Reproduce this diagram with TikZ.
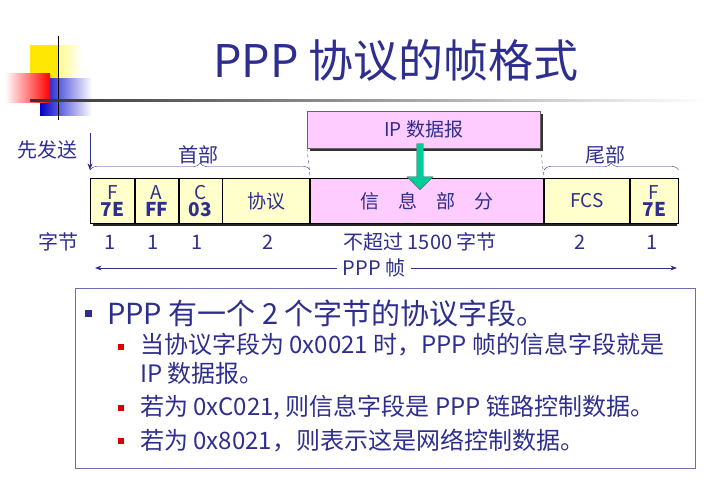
\documentclass[tikz,border=0pt]{standalone}
\usepackage{fontspec}
\setmainfont{Noto Sans CJK SC}
\usetikzlibrary{decorations.pathreplacing,arrows.meta,shapes.arrows}
\definecolor{navy}{HTML}{2E2E8F}
\definecolor{yel}{HTML}{FFFFCC}
\definecolor{pnk}{HTML}{FFCCFF}
\definecolor{grn}{HTML}{00CC99}
\tikzset{
 fld/.style={draw=black,thick,minimum height=45pt,inner sep=0pt,text=navy,font=\fontsize{19pt}{18pt}\selectfont,align=center},
 lbl/.style={text=navy,font=\fontsize{20pt}{20pt}\selectfont,inner sep=0pt},
 brc/.style={draw=navy,decorate,decoration={brace,amplitude=7pt}},
 big/.style={text=navy,font=\fontsize{29pt}{30pt}\selectfont,inner sep=0pt,anchor=west},
 sml/.style={text=navy,font=\fontsize{24pt}{29pt}\selectfont,inner sep=0pt,anchor=west,align=left},
}
\newcommand{\fb}[2]{#1\\[-1pt]\textbf{#2}}
\begin{document}
\begin{tikzpicture}[x=1pt,y=-1pt]
\useasboundingbox (0,0) rectangle (713,488);
% logo
\shade[left color=yellow!90!orange,right color=white] (30,45) rectangle (82,95);
\fill[yellow!90!orange] (30,45) rectangle (58,95);
\shade[left color=blue!80!black,right color=white] (40,78) rectangle (92,115);
\shade[left color=white,right color=red] (5,73) rectangle (50,102);
\draw[thick] (58,36) -- (58,120);
\shade[left color=black!80,right color=white] (30,99) rectangle (705,101);
\node[text=navy,font=\fontsize{45pt}{45pt}\selectfont] (title) at (396,60) {PPP 协议的帧格式};
% IP box
\fill[black!80] (310,114) rectangle (543,151);
\node[fld,draw=black!60,thin,fill=pnk,minimum width=233pt,minimum height=37pt,anchor=north west] (ip) at (307,111) {IP 数据报};
% fields
\fill[black!85] (93,181) rectangle (677,226);
\node[fld,fill=yel,minimum width=44pt,anchor=north west] (f1) at (90,178) {\fb{F}{7E}};
\node[fld,fill=yel,minimum width=43pt,anchor=west] (a) at (f1.east) {\fb{A}{FF}};
\node[fld,fill=yel,minimum width=43pt,anchor=west] (c) at (a.east) {\fb{C}{03}};
\node[fld,fill=yel,minimum width=87pt,anchor=west] (pr) at (c.east) {协议};
\node[fld,fill=pnk,minimum width=233pt,anchor=west] (info) at (pr.east) {信\quad 息\quad 部\quad 分};
\node[fld,fill=yel,minimum width=85pt,anchor=west] (fcs) at (info.east) {FCS};
\node[fld,fill=yel,minimum width=48pt,anchor=west] (f2) at (fcs.east) {\fb{F}{7E}};
\draw[dashed,black!70] (ip.south west) -- (info.north west);
\draw[dashed,black!70] (ip.south east) -- (info.north east);
% green arrow
\node[single arrow,draw=black!60,fill=grn,rotate=-90,minimum height=46pt,minimum width=26pt,single arrow head extend=6pt,inner sep=2pt] (ga) at (420,165) {};
% braces
\draw[brc] (f1.north west) ++(0,-8) coordinate (b1) -- (b1 -| pr.north east) coordinate (b2);
\node[lbl] (hd) at (198,155) {首部};
\draw[brc] (fcs.north west) ++(0,-8) coordinate (b3) -- (b3 -| f2.north east);
\node[lbl] (tl) at (605,155) {尾部};
\node[lbl] (first) at (47,150) {先发送};
\coordinate (fa) at (90,133);
\draw[navy,thick,-{Stealth}] (fa) -- (90,170);
% byte row
\node[lbl] (zj) at (58,242) {字节};
\node[lbl] at (110,242) {1};
\node[lbl] at (153,242) {1};
\node[lbl] at (197,242) {1};
\node[lbl] at (268,242) {2};
\node[lbl] at (420,242) {不超过 1500 字节};
\node[lbl] at (580,242) {2};
\node[lbl] at (652,242) {1};
\node[lbl] (ppp) at (374,268) {PPP 帧};
\coordinate (la) at (95,268);
\coordinate (ra) at (677,268);
\draw[navy,thick,-{Stealth}] (ppp.west) ++(-6,0) -- (la);
\draw[navy,thick,-{Stealth}] (ppp.east) ++(6,0) -- (ra);
% text box
\node[draw=navy!70,thin,minimum width=620pt,minimum height=180pt,anchor=north west] (tb) at (75,288) {};
\fill[navy] (85,310) rectangle (92,317);
\node[big] (t1) at (107,313) {PPP 有一个 2 个字节的协议字段。};
\fill[red!85!black] (118,344) rectangle (124,350);
\node[sml,anchor=north west] (t2) at (140,333) {当协议字段为 0x0021 时，PPP 帧的信息字段就是\\IP 数据报。};
\fill[red!85!black] (118,405) rectangle (124,411);
\node[sml] (t3) at (140,408) {若为 0xC021, 则信息字段是 PPP 链路控制数据。};
\fill[red!85!black] (118,438) rectangle (124,444);
\node[sml] (t4) at (140,441) {若为 0x8021，则表示这是网络控制数据。};
\end{tikzpicture}
\end{document}
